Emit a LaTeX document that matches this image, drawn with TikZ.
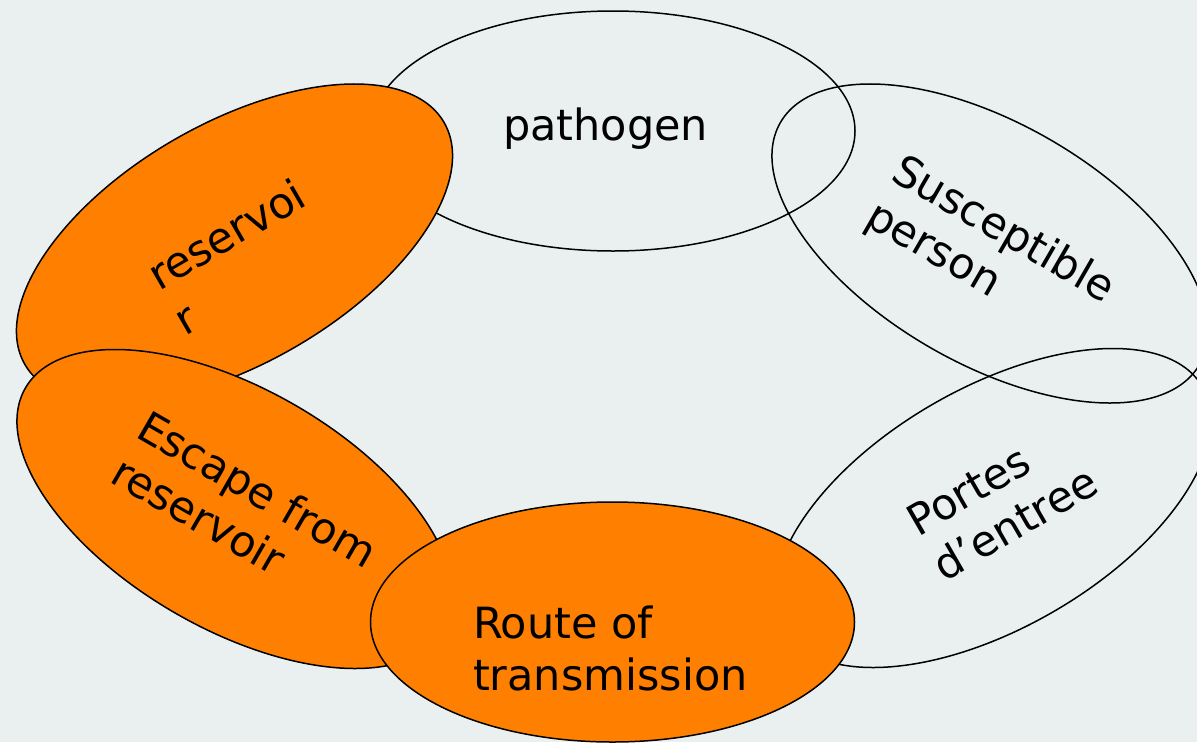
\documentclass[tikz,border=0pt]{standalone}
\usepackage{fontspec}
\setmainfont{DejaVu Sans}
\usetikzlibrary{shapes.geometric}
\definecolor{bgc}{RGB}{234,240,240}
\definecolor{orng}{RGB}{255,127,0}
\begin{document}
\begin{tikzpicture}[x=1pt,y=-1pt,
  blob/.style={ellipse, draw=black, line width=1.5pt, minimum width=484pt, minimum height=240pt, inner sep=0pt, outer sep=0pt},
  hot/.style={blob, fill=orng},
  lbl/.style={font=\fontsize{43}{52}\selectfont, inner sep=0pt, outer sep=0pt, anchor=base west, text=black}]
\useasboundingbox (0,0) rectangle (1197,742);
\clip (0,0) rectangle (1197,742);
\fill[bgc] (0,0) rectangle (1197,742);
% outline ellipses
\node[blob] (pathogen) at (613,131) {};
\node[blob, rotate=-30] (susc) at (990,243.5) {};
\node[blob, rotate=30] (portes) at (993,508) {};
% orange ellipses
\node[hot, rotate=30] (res) at (234.5,243.5) {};
\node[hot, rotate=-30] (esc) at (235,509) {};
\node[hot] (route) at (612.5,622) {};
% labels
\node[lbl] (tpath) at (503,140) {pathogen};
\node[lbl, rotate=-30] (tsusc) at (889,179) {\begin{tabular}[t]{@{}l@{}}Susceptible\\person\end{tabular}};
\node[lbl, rotate=30] (tportes) at (918,537) {\begin{tabular}[t]{@{}l@{}}Portes\\d’entree\end{tabular}};
\node[lbl, rotate=30] (tres) at (159,291) {\begin{tabular}[t]{@{}l@{}}reservoi\\r\end{tabular}};
\node[lbl, rotate=-30] (tesc) at (134,436) {\begin{tabular}[t]{@{}l@{}}Escape from\\reservoir\end{tabular}};
\node[lbl] (troute) at (473,638) {\begin{tabular}[t]{@{}l@{}}Route of\\transmission\end{tabular}};
\end{tikzpicture}
\end{document}
